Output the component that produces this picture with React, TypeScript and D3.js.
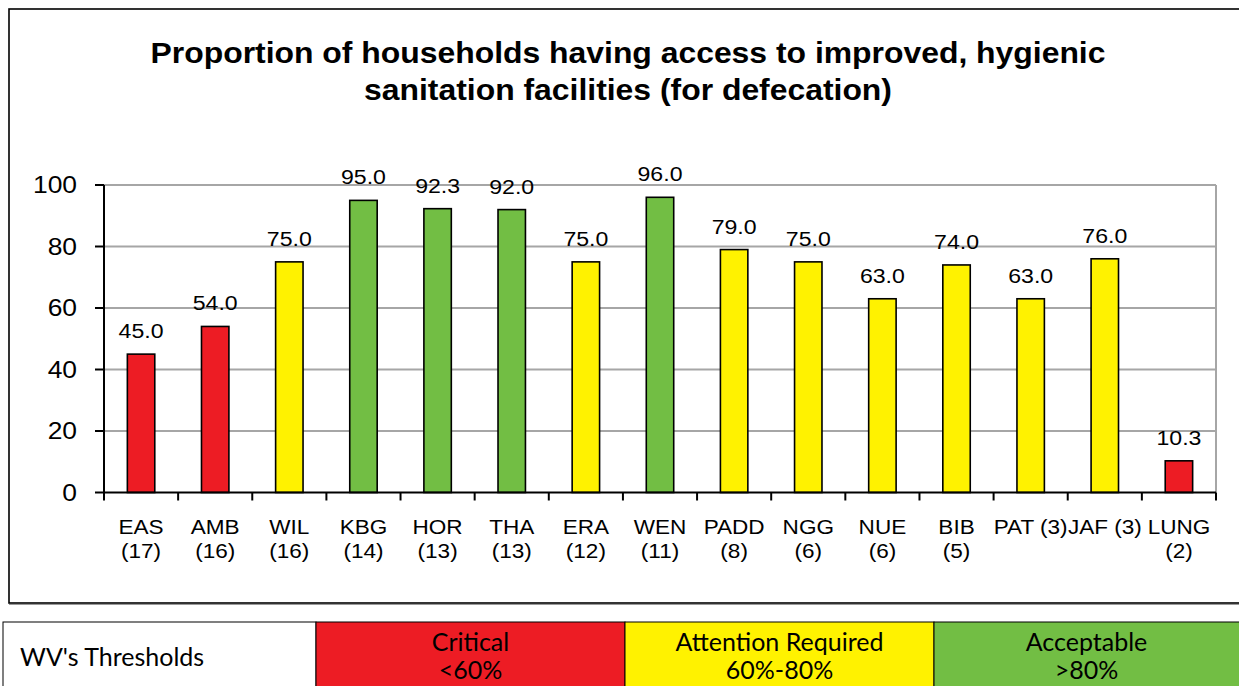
import React from "react";
import * as d3 from "d3";

const categories = ["EAS (17)", "AMB (16)", "WIL (16)", "KBG (14)", "HOR (13)", "THA (13)", "ERA (12)", "WEN (11)", "PADD (8)", "NGG (6)", "NUE (6)", "BIB (5)", "PAT (3)", "JAF (3)", "LUNG (2)"];
const labelLines = [["EAS", "(17)"], ["AMB", "(16)"], ["WIL", "(16)"], ["KBG", "(14)"], ["HOR", "(13)"], ["THA", "(13)"], ["ERA", "(12)"], ["WEN", "(11)"], ["PADD", "(8)"], ["NGG", "(6)"], ["NUE", "(6)"], ["BIB", "(5)"], ["PAT (3)"], ["JAF (3)"], ["LUNG", "(2)"]];
const values = [45.0, 54.0, 75.0, 95.0, 92.3, 92.0, 75.0, 96.0, 79.0, 75.0, 63.0, 74.0, 63.0, 76.0, 10.3];
const yTicks = [0, 20, 40, 60, 80, 100];
const thresholdNames = ["Critical", "Attention Required", "Acceptable"];
const thresholdRanges = ["<60%", "60%-80%", ">80%"];
const titleLines = ["Proportion of households having access to improved, hygienic", "sanitation facilities (for defecation)"];

const RED = "#ED1C24";
const YELLOW = "#FFF200";
const GREEN = "#72BE44";
const SX = 1.1;

function colorFor(v: number) {
  if (v < 60) return RED;
  if (v <= 80) return YELLOW;
  return GREEN;
}

function SText({ x, y, anchor = "middle", size, weight = "normal", family, dy, children }: any) {
  return (
    <g transform={`translate(${x},${y}) scale(${SX},1)`}>
      <text x={0} y={0} dy={dy} textAnchor={anchor} fontFamily={family} fontWeight={weight} fontSize={size} fill="#000">{children}</text>
    </g>
  );
}

export default function App() {
  const x0 = 104, x1 = 1216, yBottom = 492.5, yTop = 185;
  const x = d3.scaleBand<string>().domain(categories).range([x0, x1]).paddingInner(0.63).paddingOuter(0.315);
  const y = d3.scaleLinear().domain([0, 100]).range([yBottom, yTop]);
  const step = x.step();
  const font = "'Liberation Sans', Arial, sans-serif";
  const legendFont = "Lato, 'Open Sans', sans-serif";
  const colX = [3, 316, 625, 934, 1245];
  const legendColors = [RED, YELLOW, GREEN];
  const cx = (c: string) => (x(c) as number) + x.bandwidth() / 2;

  return (
    <svg width={1239} height={686} style={{ position: "absolute", left: 0, top: 0, background: "#fff" }}>
      <rect x={0} y={0} width={1239} height={686} fill="#fff" />
      {/* chart frame */}
      <rect x={9} y={9} width={1240} height={594} fill="none" stroke="#000" strokeWidth={1.6} />
      <line x1={9} x2={1239} y1={604.5} y2={604.5} stroke="#999" strokeWidth={1} />
      {/* title */}
      {titleLines.map((t, i) => (
        <SText key={i} x={628} y={63 + i * 37} size={29} weight="bold" family={font}>{t}</SText>
      ))}
      {/* gridlines */}
      {yTicks.filter(t => t > 0).map(t => (
        <line key={t} x1={x0} x2={x1} y1={y(t)} y2={y(t)} stroke="#A6A6A6" strokeWidth={2} />
      ))}
      <line x1={x1} x2={x1} y1={yTop} y2={yBottom} stroke="#A6A6A6" strokeWidth={2} />
      {/* bars */}
      {categories.map((c, i) => (
        <rect key={c} x={x(c)} y={y(values[i])} width={x.bandwidth()} height={yBottom - y(values[i])} fill={colorFor(values[i])} stroke="#000" strokeWidth={1.6} />
      ))}
      {/* value labels */}
      {categories.map((c, i) => (
        <SText key={c} x={cx(c)} y={y(values[i]) - 16} size={21} family={font}>{values[i].toFixed(1)}</SText>
      ))}
      {/* axes */}
      <line x1={x0} x2={x0} y1={yTop} y2={yBottom} stroke="#000" strokeWidth={2} />
      <line x1={x0} x2={x1} y1={yBottom} y2={yBottom} stroke="#000" strokeWidth={2} />
      {yTicks.map(t => (
        <g key={t}>
          <line x1={x0 - 9} x2={x0} y1={y(t)} y2={y(t)} stroke="#000" strokeWidth={2} />
          <SText x={77} y={y(t)} dy="0.35em" anchor="end" size={24} family={font}>{t}</SText>
        </g>
      ))}
      {d3.range(categories.length + 1).map(i => (
        <line key={i} x1={x0 + i * step} x2={x0 + i * step} y1={yBottom} y2={yBottom + 8} stroke="#000" strokeWidth={2} />
      ))}
      {categories.map((c, i) => (
        <g key={c}>
          {labelLines[i].map((l, j) => (
            <SText key={j} x={cx(c)} y={534 + j * 24} size={20.5} family={font}>{l}</SText>
          ))}
        </g>
      ))}
      {/* threshold table */}
      <rect x={colX[0]} y={622} width={colX[1] - colX[0]} height={70} fill="#fff" stroke="#000" strokeWidth={1} />
      <text x={20} y={666} fontFamily={legendFont} fontSize={25} fill="#000">WV's Thresholds</text>
      {thresholdNames.map((n, i) => (
        <g key={n}>
          <rect x={colX[i + 1]} y={622} width={colX[i + 2] - colX[i + 1]} height={70} fill={legendColors[i]} stroke="#000" strokeWidth={1} />
          <text x={(colX[i + 1] + Math.min(colX[i + 2], 1239)) / 2} y={651} textAnchor="middle" fontFamily={legendFont} fontSize={25} fill="#000">{n}</text>
          <text x={(colX[i + 1] + Math.min(colX[i + 2], 1239)) / 2} y={679} textAnchor="middle" fontFamily={legendFont} fontSize={25} fill="#000">{thresholdRanges[i]}</text>
        </g>
      ))}
    </svg>
  );
}
